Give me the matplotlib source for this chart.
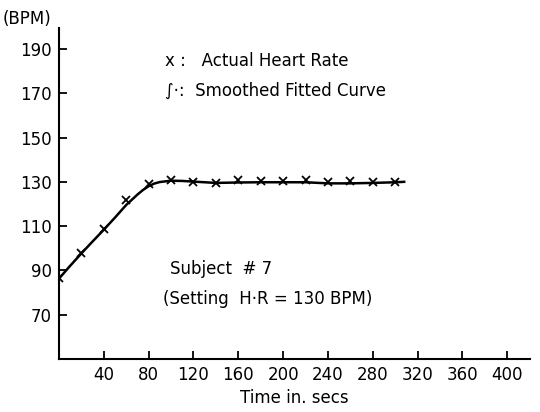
"""
Heart rate response for subject #7, setting H.R = 130 BPM
"""

import matplotlib
matplotlib.use('Agg')
import matplotlib.pyplot as plt

# actual heart rate readings (x markers)
time_actual = [0, 20, 40, 60, 80, 100, 120, 140, 160, 180, 200, 220, 240, 260, 280, 300]
hr_actual = [86.5, 98, 108.5, 122, 128.8, 131, 129.7, 129.3, 131, 130.5,
             130.3, 131, 129.7, 130.3, 129.7, 130]

# smoothed fitted curve
time_fit = [0, 10, 20, 30, 40, 50, 60, 70, 75, 80, 85, 90, 100, 110, 120, 140, 160,
            180, 200, 220, 240, 260, 280, 300, 308]
hr_fit = [86.2, 92, 97.6, 103, 108.3, 113.8, 119.5, 124.2, 126.3, 128, 129.2, 129.9,
          130.5, 130.4, 130.1, 129.5, 129.7, 129.8, 129.8, 129.8, 129.3, 129.3,
          129.5, 129.8, 130]

x_ticks = [40, 80, 120, 160, 200, 240, 280, 320, 360, 400]
y_ticks = [70, 90, 110, 130, 150, 170, 190]

plt.rcParams['font.family'] = ['DejaVu Sans']

fig = plt.figure(figsize=(5.4, 4.12), dpi=100)
ax = fig.add_axes([0.109, 0.129, 0.872, 0.803])

ax.plot(time_fit, hr_fit, color='black', lw=1.8)
ax.plot(time_actual, hr_actual, ls='none', marker='x', ms=6, mew=1.3, color='black')

ax.set_xlim(0, 420)
ax.set_ylim(50, 199.5)
ax.set_xticks(x_ticks)
ax.set_yticks(y_ticks)
ax.tick_params(direction='in', length=6, width=1.3, labelsize=12, pad=5)

for side in ('top', 'right'):
    ax.spines[side].set_visible(False)
for side in ('left', 'bottom'):
    ax.spines[side].set_linewidth(1.5)

ax.set_xlabel('Time in. secs', fontsize=12, labelpad=4)
fig.text(0.005, 0.955, '(BPM)', fontsize=12, ha='left', va='center')

ax.text(0.225, 0.886, 'x :   Actual Heart Rate', transform=ax.transAxes, fontsize=12)
ax.text(0.225, 0.795, '\u222b\u00b7:  Smoothed Fitted Curve', transform=ax.transAxes, fontsize=12)
ax.text(0.236, 0.255, 'Subject  # 7', transform=ax.transAxes, fontsize=12)
ax.text(0.221, 0.165, '(Setting  H\u00b7R = 130 BPM)', transform=ax.transAxes, fontsize=12)

fig.savefig('out.png', dpi=100)
